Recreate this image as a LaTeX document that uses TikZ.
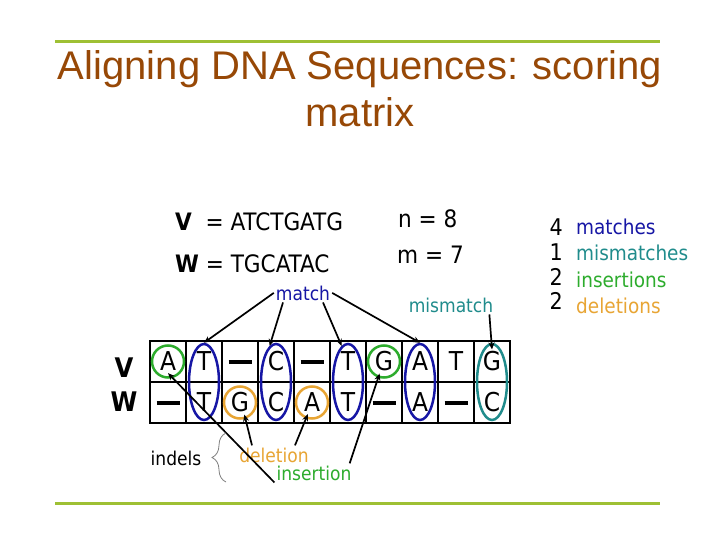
\documentclass[tikz,border=0pt]{standalone}
\usepackage{fontspec}
\setmainfont{DejaVu Sans Condensed}
\newfontfamily\titlefont{Liberation Sans}
\usetikzlibrary{arrows.meta, positioning, calc, shapes.geometric, decorations.pathreplacing}
\definecolor{titlebrown}{RGB}{151,72,6}
\definecolor{rulegreen}{RGB}{158,192,52}
\definecolor{matchblue}{RGB}{22,22,165}
\definecolor{mismatchteal}{RGB}{32,140,140}
\definecolor{insgreen}{RGB}{45,172,45}
\definecolor{delorange}{RGB}{232,165,52}
\newcommand{\gapbar}{\rule{23pt}{4pt}}
\tikzset{
    pointer/.style={-{Stealth[length=7pt, width=6pt]}, line width=1.7pt},
    gridline/.style={line width=2.5pt},
    hline/.style={rulegreen, line width=3pt},
    titletext/.style={inner sep=0pt, text=titlebrown, font=\titlefont\fontsize{40}{47}\selectfont},
    seqtext/.style={inner sep=0pt, font=\fontsize{24}{28}\selectfont},
    cell/.style={inner sep=2pt, font=\fontsize{26}{30}\selectfont},
    tag/.style={inner sep=2pt, font=\fontsize{19}{22}\selectfont},
    ring/.style={circle, draw, line width=2.5pt, minimum size=32pt, inner sep=0pt},
    oval/.style={ellipse, draw, line width=2.5pt, minimum width=30pt, minimum height=76pt, inner sep=0pt}
}

\begin{document}
\begin{tikzpicture}[x=1pt, y=-1pt]
    \fill[white] (0,0) rectangle (720,540);
    \useasboundingbox (0,0) rectangle (720,540);
    \draw[hline] (55,42) -- (660,42);
    \draw[hline] (55,503) -- (660,503);
    \node[titletext, anchor=base] (title1) at (360,80) {Aligning DNA Sequences: scoring};
    \node[titletext, anchor=base] (title2) at (360,127) {matrix};

    \node[seqtext, anchor=base west] (seqv) at (175,230) {\textbf{V}\ \ = ATCTGATG};
    \node[seqtext, anchor=base west] (seqw) at (175,272) {\textbf{W} = TGCATAC};
    \node[seqtext, anchor=base west] (nlen) at (398,227) {n = 8};
    \node[seqtext, anchor=base west] (mlen) at (397,263) {m = 7};

    \foreach \num/\word/\col/\yn/\yw in {4/matches/matchblue/236/234, 1/mismatches/mismatchteal/260/260,
        2/insertions/insgreen/285/287, 2/deletions/delorange/309/313} {
        \node[inner sep=0pt, anchor=base east, font=\fontsize{23}{26}\selectfont] (n\word) at (563,\yn) {\num};
        \node[inner sep=0pt, anchor=base west, text=\col, font=\fontsize{20.5}{24}\selectfont] (w\word) at (576,\yw) {\word};
    }

    \draw[gridline] (150,341) rectangle (510,423);
    \draw[gridline] (150,382) -- (510,382);
    \foreach \k in {1,...,9}
        \draw[gridline] (150+36*\k,341) -- (150+36*\k,423);

    \node[inner sep=0pt, font=\fontsize{27}{30}\selectfont\bfseries] (vname) at (124,368) {V};
    \node[inner sep=0pt, font=\fontsize{27}{30}\selectfont\bfseries] (wname) at (124,402) {W};
    \foreach \ch [count=\i from 0] in {A,T,\gapbar,C,\gapbar,T,G,A,T,G}
        \node[cell] (v\i) at (168+36*\i,361.5) {\ch};
    \foreach \ch [count=\i from 0] in {\gapbar,T,G,C,A,T,\gapbar,A,\gapbar,C}
        \node[cell] (w\i) at (168+36*\i,402.5) {\ch};

    \foreach \i in {1,3,5,7}
        \node[oval, draw=matchblue] (m\i) at (168+36*\i,382) {};
    \node[oval, draw=mismatchteal] (m9) at (492,382) {};
    \node[ring, draw=insgreen] (r0) at (v0) {};
    \node[ring, draw=insgreen] (r6) at (v6) {};
    \node[ring, draw=delorange] (r2) at (w2) {};
    \node[ring, draw=delorange] (r4) at (w4) {};

    \node[tag, anchor=base, text=matchblue] (match) at (303,300) {match};
    \node[tag, anchor=base, text=mismatchteal] (mismatch) at (451,312) {mismatch};
    \node[tag, anchor=base] (indels) at (176,465) {indels};
    \node[tag, anchor=base, text=delorange] (del) at (274,462) {deletion};
    \node[tag, anchor=base, text=insgreen] (ins) at (314,480) {insertion};

    \draw[pointer] (match.west) -- (m1.north);
    \draw[pointer] ([xshift=-20pt]match.south) -- (m3.100);
    \draw[pointer] ([xshift=20pt]match.south) -- (m5.100);
    \draw[pointer] (match.east) -- (m7.north);
    \draw[pointer] ([xshift=-6pt]mismatch.south east) -- (v9.north);
    \draw[pointer] ([xshift=-22pt]del.north) -- (w2.290);
    \draw[pointer] ([xshift=21pt]del.north) -- (w4.250);
    \draw[pointer] (ins.south west) -- (v0.south);
    \draw[pointer] (ins.15) -- (v6.250);
    \draw[gray, line width=0.8pt, decorate, decoration={brace, amplitude=14pt}] (226,482) -- (226,433);
\end{tikzpicture}
\end{document}
